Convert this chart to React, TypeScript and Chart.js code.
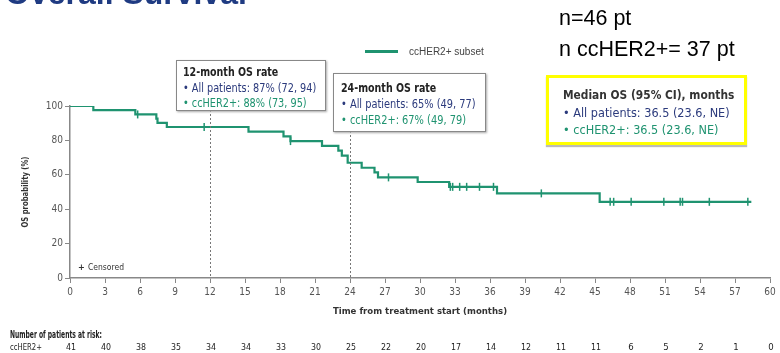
import React, { useEffect, useRef } from "react";
import { Chart, registerables } from "chart.js";

Chart.register(...registerables);

// ---- data ----
const eventMonths = [0, 2.0, 5.6, 7.4, 7.5, 8.3, 15.3, 18.3, 18.9, 21.6, 23.0, 23.3, 23.8, 25.0, 26.1, 26.4, 29.8, 32.5, 36.6, 45.4, 58.4];
const survivalPct = [100, 97.6, 95.1, 92.7, 90.2, 87.8, 85.1, 82.3, 79.6, 76.8, 74.0, 71.2, 67.0, 64.1, 61.4, 58.5, 55.8, 53.0, 49.2, 44.3, 44.3];
const censorMonths = [5.8, 11.5, 18.9, 27.3, 32.6, 32.8, 33.4, 34.0, 35.1, 36.3, 40.4, 46.3, 46.6, 48.1, 50.9, 52.3, 52.5, 54.8, 58.1];
const riskMonths = [0, 3, 6, 9, 12, 15, 18, 21, 24, 27, 30, 33, 36, 39, 42, 45, 48, 51, 54, 57, 60];
const atRiskCounts = [41, 40, 38, 35, 34, 34, 33, 30, 25, 22, 20, 17, 14, 12, 11, 11, 6, 5, 2, 1, 0];
const landmarkMonths = [12, 24];
const seriesLabel = "ccHER2+ subset";

const GREEN = "#1f9370";
const NAVY = "#2b3a7c";
const NARROW = "'Liberation Sans Narrow', 'DejaVu Sans Condensed', 'Roboto Condensed', sans-serif";
const SANS = "'Liberation Sans', Arial, sans-serif";

function survivalAt(t: number): number {
  let s = survivalPct[0];
  for (let i = 0; i < eventMonths.length; i++) {
    if (eventMonths[i] <= t) s = survivalPct[i];
  }
  return s;
}

const overlayPlugin = {
  id: "kmOverlay",
  afterDraw(chart: any) {
    const { ctx, chartArea, scales } = chart;
    const x = scales.x;
    ctx.save();
    // landmark dashed lines
    const tops = [110, 131];
    ctx.strokeStyle = "#777";
    ctx.lineWidth = 1;
    ctx.setLineDash([2, 2]);
    landmarkMonths.forEach((m, i) => {
      const px = Math.round(x.getPixelForValue(m)) + 0.5;
      ctx.beginPath();
      ctx.moveTo(px, tops[i]);
      ctx.lineTo(px, chartArea.bottom);
      ctx.stroke();
    });
    ctx.setLineDash([]);

    // axis titles
    ctx.fillStyle = "#333";
    ctx.font = `bold 9.5px ${NARROW}`;
    ctx.textAlign = "center";
    ctx.textBaseline = "middle";
    ctx.fillText("Time from treatment start (months)", (chartArea.left + chartArea.right) / 2, 312, 176);
    ctx.save();
    ctx.translate(26, (chartArea.top + chartArea.bottom) / 2);
    ctx.rotate(-Math.PI / 2);
    ctx.fillText("OS probability (%)", 0, 0, 71);
    ctx.restore();

    // censored legend
    ctx.textAlign = "left";
    ctx.font = `bold 9px ${NARROW}`;
    ctx.fillStyle = "#333";
    ctx.fillText("+", 78, 268);
    ctx.font = `9px ${NARROW}`;
    ctx.fillText("Censored", 88, 268, 36);

    // risk table
    ctx.font = `bold 10px ${NARROW}`;
    ctx.fillStyle = "#222";
    ctx.fillText("Number of patients at risk:", 10, 335, 92);
    ctx.font = `9.5px ${NARROW}`;
    ctx.fillText("ccHER2+", 10, 348, 32);
    ctx.textAlign = "center";
    atRiskCounts.forEach((c, i) => {
      ctx.fillText(String(c), x.getPixelForValue(riskMonths[i]) + 1, 348, 10);
    });
    ctx.restore();
  },
};

export default function App() {
  const ref = useRef<HTMLCanvasElement>(null);
  useEffect(() => {
    document.body.style.margin = "0";
    const curve = eventMonths.map((m, i) => ({ x: m, y: survivalPct[i] }));
    const censors = censorMonths.map((m) => ({ x: m, y: survivalAt(m) }));
    const chart = new Chart(ref.current as HTMLCanvasElement, {
      type: "line",
      data: {
        datasets: [
          {
            label: seriesLabel,
            data: curve,
            borderColor: GREEN,
            backgroundColor: GREEN,
            borderWidth: 2.2,
            stepped: "before",
            pointRadius: 0,
            fill: false,
          },
          {
            label: "Censored",
            data: censors,
            showLine: false,
            borderColor: GREEN,
            backgroundColor: GREEN,
            pointStyle: "line",
            rotation: 90,
            pointRadius: 4,
            pointBorderWidth: 1.5,
          },
        ],
      },
      options: {
        responsive: false,
        animation: false,
        events: [],
        layout: { padding: { top: 106, left: 0, right: 10, bottom: 0 } },
        plugins: { legend: { display: false }, tooltip: { enabled: false } },
        scales: {
          x: {
            type: "linear",
            min: 0,
            max: 60,
            ticks: { stepSize: 3, color: "#555", font: { family: NARROW, size: 10 }, padding: 3, maxRotation: 0, autoSkip: false },
            grid: { display: true, drawOnChartArea: false, drawTicks: true, tickLength: 5, color: "#888", lineWidth: 1 },
            border: { display: true, color: "#888", width: 1.5 },
            afterFit: (s: any) => {
              s.height = 75;
            },
          },
          y: {
            type: "linear",
            min: 0,
            max: 100,
            ticks: { stepSize: 20, color: "#555", font: { family: NARROW, size: 10 }, padding: 2 },
            grid: { display: true, drawOnChartArea: false, drawTicks: true, tickLength: 5, color: "#888", lineWidth: 1 },
            border: { display: true, color: "#888", width: 1.5 },
            afterFit: (s: any) => {
              s.width = 70;
            },
          },
        },
      },
      plugins: [overlayPlugin],
    });
    return () => chart.destroy();
  }, []);

  const line = (scale: number) => ({
    fontFamily: NARROW,
    fontSize: 11.5,
    lineHeight: "16px",
    whiteSpace: "nowrap" as const,
    transform: `scaleX(${scale})`,
    transformOrigin: "left center",
  });

  return (
    <div style={{ position: "fixed", left: 0, top: 0, width: 780, height: 353, overflow: "hidden", background: "#fff" }}>
      <canvas ref={ref} width={780} height={353} style={{ position: "absolute", left: 0, top: 0 }} />
      {/* title (cut at top) */}
      <div style={{ position: "absolute", left: 5, top: -23, fontFamily: SANS, fontWeight: "bold", fontSize: 32, lineHeight: "32px", color: "#1f3b82", whiteSpace: "nowrap" }}>
        Overall Survival
      </div>
      {/* n labels */}
      <div style={{ position: "absolute", left: 559, top: 6, fontFamily: SANS, fontSize: 21.5, lineHeight: "25px", color: "#000", whiteSpace: "nowrap" }}>n=46 pt</div>
      <div style={{ position: "absolute", left: 559, top: 37, fontFamily: SANS, fontSize: 21.5, lineHeight: "25px", color: "#000", whiteSpace: "nowrap" }}>n ccHER2+= 37 pt</div>
      {/* legend */}
      <div style={{ position: "absolute", left: 365, top: 50, width: 33, height: 3, background: GREEN }} />
      <div style={{ position: "absolute", left: 409, top: 45, fontFamily: SANS, fontSize: 10, lineHeight: "14px", color: "#444", whiteSpace: "nowrap" }}>{seriesLabel}</div>
      {/* 12-month box */}
      <div style={{ position: "absolute", left: 176, top: 60, width: 148, height: 49, border: "1px solid #888", background: "#fff", boxShadow: "1px 1px 2px #aaa" }}>
        <div style={{ ...line(0.88), position: "absolute", left: 6, top: 3, fontWeight: "bold", color: "#222", fontSize: 12 }}>12-month OS rate</div>
        <div style={{ ...line(0.94), position: "absolute", left: 6, top: 19, color: NAVY }}>• All patients: 87% (72, 94)</div>
        <div style={{ ...line(0.94), position: "absolute", left: 6, top: 34, color: GREEN }}>• ccHER2+: 88% (73, 95)</div>
      </div>
      {/* 24-month box */}
      <div style={{ position: "absolute", left: 333, top: 73, width: 151, height: 57, border: "1px solid #888", background: "#fff", boxShadow: "1px 1px 2px #aaa" }}>
        <div style={{ ...line(0.88), position: "absolute", left: 7, top: 6, fontWeight: "bold", color: "#222", fontSize: 12 }}>24-month OS rate</div>
        <div style={{ ...line(0.95), position: "absolute", left: 7, top: 22, color: NAVY }}>• All patients: 65% (49, 77)</div>
        <div style={{ ...line(0.95), position: "absolute", left: 7, top: 38, color: GREEN }}>• ccHER2+: 67% (49, 79)</div>
      </div>
      {/* median box */}
      <div style={{ position: "absolute", left: 546, top: 75, width: 195, height: 64, border: "3px solid #ffff00", background: "#fff", boxShadow: "0px 2px 1px #bbb" }}>
        <div style={{ ...line(0.91), position: "absolute", left: 14, top: 9, fontWeight: "bold", color: "#333", fontSize: 13 }}>Median OS (95% CI), months</div>
        <div style={{ ...line(0.965), position: "absolute", left: 14, top: 27, color: NAVY, fontSize: 13 }}>• All patients: 36.5 (23.6, NE)</div>
        <div style={{ ...line(0.965), position: "absolute", left: 14, top: 44, color: GREEN, fontSize: 13 }}>• ccHER2+: 36.5 (23.6, NE)</div>
      </div>
    </div>
  );
}
